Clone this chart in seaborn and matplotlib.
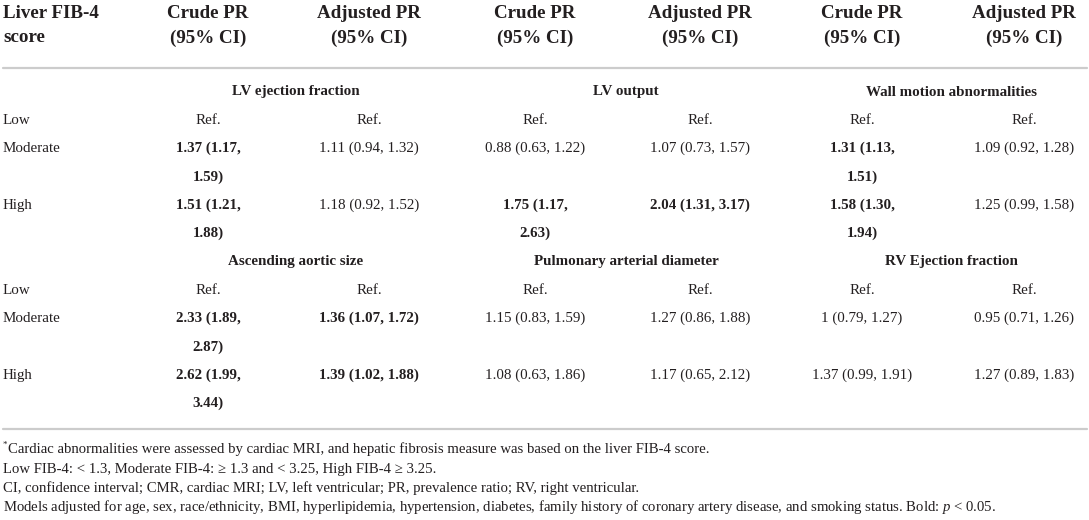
import matplotlib
matplotlib.use('Agg')
import matplotlib.pyplot as plt
import seaborn as sns

# 표 데이터
levels = ["Low", "Moderate", "High"]
header_first = ["Liver FIB-4", "score"]
col_headers = ["Crude PR", "Adjusted PR"] * 3
col_sub = "(95% CI)"

outcomes_top = ["LV ejection fraction", "LV output", "Wall motion abnormalities"]
outcomes_bottom = ["Ascending aortic size", "Pulmonary arterial diameter", "RV Ejection fraction"]

lvef_crude = ["Ref.", "1.37 (1.17, 1.59)", "1.51 (1.21, 1.88)"]
lvef_adj = ["Ref.", "1.11 (0.94, 1.32)", "1.18 (0.92, 1.52)"]
lvo_crude = ["Ref.", "0.88 (0.63, 1.22)", "1.75 (1.17, 2.63)"]
lvo_adj = ["Ref.", "1.07 (0.73, 1.57)", "2.04 (1.31, 3.17)"]
wma_crude = ["Ref.", "1.31 (1.13, 1.51)", "1.58 (1.30, 1.94)"]
wma_adj = ["Ref.", "1.09 (0.92, 1.28)", "1.25 (0.99, 1.58)"]

aas_crude = ["Ref.", "2.33 (1.89, 2.87)", "2.62 (1.99, 3.44)"]
aas_adj = ["Ref.", "1.36 (1.07, 1.72)", "1.39 (1.02, 1.88)"]
pad_crude = ["Ref.", "1.15 (0.83, 1.59)", "1.08 (0.63, 1.86)"]
pad_adj = ["Ref.", "1.27 (0.86, 1.88)", "1.17 (0.65, 2.12)"]
rvef_crude = ["Ref.", "1 (0.79, 1.27)", "1.37 (0.99, 1.91)"]
rvef_adj = ["Ref.", "0.95 (0.71, 1.26)", "1.27 (0.89, 1.83)"]

# p < 0.05 (굵게)
lvef_crude_sig = [False, True, True]
lvef_adj_sig = [False, False, False]
lvo_crude_sig = [False, False, True]
lvo_adj_sig = [False, False, True]
wma_crude_sig = [False, True, True]
wma_adj_sig = [False, False, False]
aas_crude_sig = [False, True, True]
aas_adj_sig = [False, True, True]
pad_crude_sig = [False, False, False]
pad_adj_sig = [False, False, False]
rvef_crude_sig = [False, False, False]
rvef_adj_sig = [False, False, False]

footnotes = [
    "Cardiac abnormalities were assessed by cardiac MRI, and hepatic fibrosis measure was based on the liver FIB-4 score.",
    "Low FIB-4: < 1.3, Moderate FIB-4: \u2265 1.3 and < 3.25, High FIB-4 \u2265 3.25.",
    "CI, confidence interval; CMR, cardiac MRI; LV, left ventricular; PR, prevalence ratio; RV, right ventricular.",
    "Models adjusted for age, sex, race/ethnicity, BMI, hyperlipidemia, hypertension, diabetes, family history of coronary artery disease, and smoking status. Bold: $p$ < 0.05.",
]

sns.set_theme(style="white")
plt.rcParams['font.family'] = ['Liberation Serif', 'DejaVu Serif']
plt.rcParams['mathtext.fontset'] = 'custom'
plt.rcParams['mathtext.rm'] = 'Liberation Serif'
plt.rcParams['mathtext.it'] = 'Liberation Serif:italic'

TXT = '#231f20'
RULE = '#cccccc'
HEAD_FS = 13.7
BODY_FS = 10.8
NOTE_FS = 10.6

fig = plt.figure(figsize=(10.89, 5.2), dpi=100)
ax = fig.add_axes([0, 0, 1, 1])
ax.set_xlim(0, 1089)
ax.set_ylim(520, 0)
ax.axis('off')

col_x = [208, 369, 535, 700, 862, 1024]
sec_x = [296, 626, 951]
step = 28.3

# 헤더
for i, t in enumerate(header_first):
    ax.text(3, 13 + 25 * i, t, ha='left', va='center', fontsize=HEAD_FS,
            fontweight='bold', color=TXT)
for x, t in zip(col_x, col_headers):
    ax.text(x, 13, t, ha='center', va='center', fontsize=HEAD_FS, fontweight='bold', color=TXT)
    ax.text(x, 38, col_sub, ha='center', va='center', fontsize=HEAD_FS, fontweight='bold', color=TXT)

ax.plot([3, 1087], [68, 68], color=RULE, lw=1.6)
ax.plot([3, 1087], [429, 429], color=RULE, lw=1.6)


def draw_cell(x, y, text, bold, wrap):
    w = 'bold' if bold else 'normal'
    # 좁은 Crude 열에서 굵은 글씨는 두 줄로
    if wrap and bold and ',' in text:
        a, b = text.split(', ', 1)
        ax.text(x, y, a + ',', ha='center', va='center', fontsize=BODY_FS, fontweight=w, color=TXT)
        ax.text(x, y + step, b, ha='center', va='center', fontsize=BODY_FS, fontweight=w, color=TXT)
    else:
        ax.text(x, y, text, ha='center', va='center', fontsize=BODY_FS, fontweight=w, color=TXT)


blocks = [
    (92, outcomes_top,
     [(lvef_crude, lvef_crude_sig), (lvef_adj, lvef_adj_sig),
      (lvo_crude, lvo_crude_sig), (lvo_adj, lvo_adj_sig),
      (wma_crude, wma_crude_sig), (wma_adj, wma_adj_sig)]),
    (262, outcomes_bottom,
     [(aas_crude, aas_crude_sig), (aas_adj, aas_adj_sig),
      (pad_crude, pad_crude_sig), (pad_adj, pad_adj_sig),
      (rvef_crude, rvef_crude_sig), (rvef_adj, rvef_adj_sig)]),
]

for y0, names, cols in blocks:
    for x, n in zip(sec_x, names):
        ax.text(x, y0, n, ha='center', va='center', fontsize=BODY_FS, fontweight='bold', color=TXT)
    row_y = [y0 + step, y0 + 2 * step, y0 + 4 * step]
    for ry, lv in zip(row_y, levels):
        ax.text(3, ry, lv, ha='left', va='center', fontsize=BODY_FS, color=TXT)
    for j, (vals, sig) in enumerate(cols):
        for k, ry in enumerate(row_y):
            draw_cell(col_x[j], ry, vals[k], sig[k], wrap=(j % 2 == 0))

# 각주
note_y = [449, 469, 488, 507]
ax.text(3, note_y[0] - 4, "*", ha='left', va='center', fontsize=6.5, color=TXT)
ax.text(8, note_y[0], footnotes[0], ha='left', va='center', fontsize=NOTE_FS, color=TXT)
for y, t in zip(note_y[1:], footnotes[1:]):
    ax.text(3, y, t, ha='left', va='center', fontsize=NOTE_FS, color=TXT)

fig.savefig('out.png', dpi=100)
